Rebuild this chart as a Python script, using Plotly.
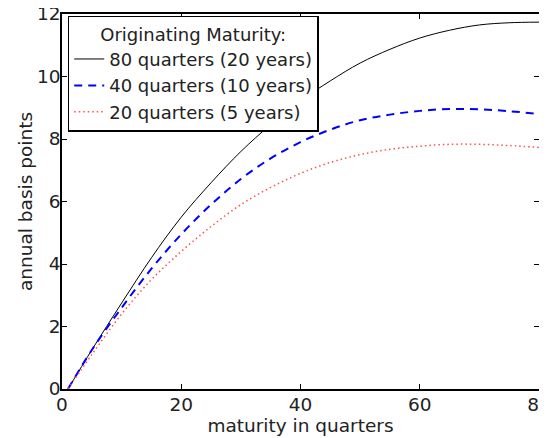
import plotly.graph_objects as go

quarters = [1, 5, 10, 15, 20, 25, 30, 35, 40, 45, 50, 55, 60, 65, 70, 75, 80]
bp_80q = [0, 1.25, 2.75, 4.2, 5.5, 6.6, 7.6, 8.46, 9.22, 9.86, 10.43, 10.87, 11.23, 11.48, 11.65, 11.72, 11.74]
bp_40q = [0, 1.25, 2.6, 3.85, 4.95, 5.9, 6.72, 7.38, 7.9, 8.3, 8.6, 8.78, 8.9, 8.96, 8.95, 8.89, 8.80]
bp_20q = [0, 1.1, 2.4, 3.5, 4.4, 5.2, 5.9, 6.45, 6.9, 7.25, 7.5, 7.67, 7.77, 7.83, 7.83, 7.79, 7.73]

names = ["80 quarters (20 years)", "40 quarters (10 years)", "20 quarters (5 years)"]
x_ticks = [0, 20, 40, 60, 80]
y_ticks = [0, 2, 4, 6, 8, 10, 12]

FONT = "DejaVu Sans, Liberation Sans, Arial, sans-serif"
FS = 18.5
TXT = "#222"

fig = go.Figure()
fig.add_trace(go.Scatter(x=quarters, y=bp_80q, mode="lines", name=names[0],
                         line=dict(color="black", width=1, shape="spline")))
fig.add_trace(go.Scatter(x=quarters, y=bp_40q, mode="lines", name=names[1],
                         line=dict(color="#0000ff", width=2, dash="8px,6px", shape="spline")))
fig.add_trace(go.Scatter(x=quarters, y=bp_20q, mode="lines", name=names[2],
                         line=dict(color="#ff5050", width=1.5, dash="1.5px,3px", shape="spline")))

axis_common = dict(showline=True, linecolor="black", linewidth=1.5, mirror="ticks",
                   ticks="inside", ticklen=5, tickwidth=1, tickcolor="black",
                   showgrid=False, zeroline=False, automargin=False,
                   ticklabeloverflow="allow",
                   tickfont=dict(family=FONT, size=FS, color=TXT))

fig.update_xaxes(range=[0, 80], tickvals=x_ticks, ticktext=[str(v) for v in x_ticks],
                 ticklabelstandoff=-2,
                 title=dict(text="maturity in quarters", font=dict(family=FONT, size=FS, color=TXT), standoff=0),
                 **axis_common)
fig.update_yaxes(range=[0, 12], tickvals=y_ticks, ticktext=[str(v) for v in y_ticks],
                 ticklabelstandoff=-4,
                 title=dict(text="annual basis points", font=dict(family=FONT, size=FS, color=TXT), standoff=0),
                 **axis_common)

fig.update_layout(
    width=547, height=438,
    margin=dict(l=54, r=16, t=6, b=57),
    plot_bgcolor="white", paper_bgcolor="white",
    font=dict(family=FONT, size=FS, color=TXT),
    legend=dict(
        x=0.012, y=0.995, xanchor="left", yanchor="top",
        bgcolor="white", bordercolor="black", borderwidth=1.5,
        title=dict(text="Originating Maturity:", side="top center",
                   font=dict(family=FONT, size=18, color=TXT)),
        font=dict(family=FONT, size=18, color=TXT),
        itemwidth=30, tracegroupgap=0,
    ),
)

fig.write_html("out.html")
